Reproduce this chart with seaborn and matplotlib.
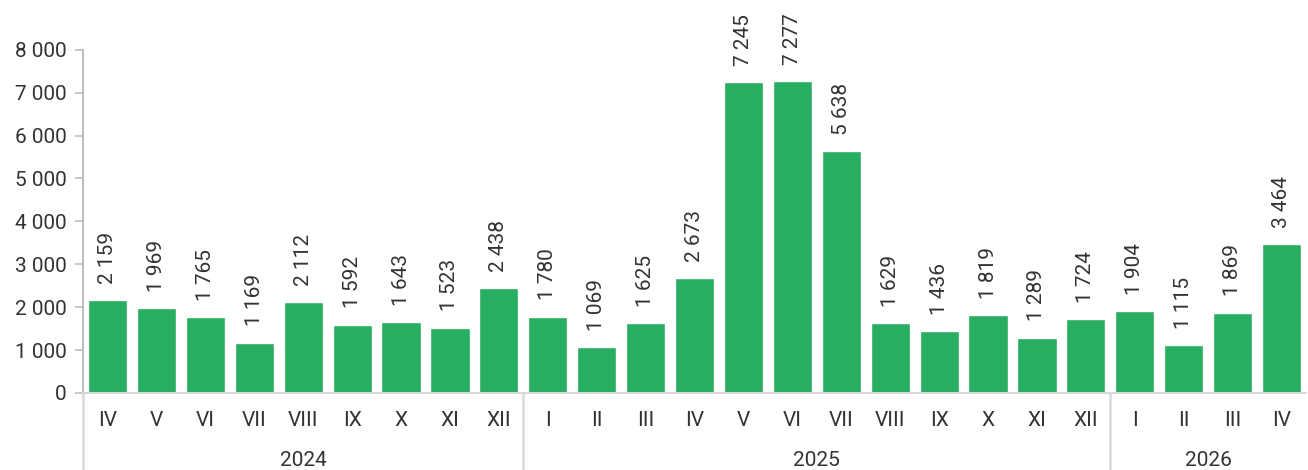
import numpy as np
import pandas as pd
import seaborn as sns
import matplotlib.pyplot as plt
import matplotlib.transforms as mtransforms

# ---- data ----
years = ["2024", "2025", "2026"]
months_2024 = ["IV", "V", "VI", "VII", "VIII", "IX", "X", "XI", "XII"]
values_2024 = [2159, 1969, 1765, 1169, 2112, 1592, 1643, 1523, 2438]
months_2025 = ["I", "II", "III", "IV", "V", "VI", "VII", "VIII", "IX", "X", "XI", "XII"]
values_2025 = [1780, 1069, 1625, 2673, 7245, 7277, 5638, 1629, 1436, 1819, 1289, 1724]
months_2026 = ["I", "II", "III", "IV"]
values_2026 = [1904, 1115, 1869, 3464]
y_ticks = [0, 1000, 2000, 3000, 4000, 5000, 6000, 7000, 8000]

GREEN = "#27ae60"
GREY = "#bfbfbf"
LIGHT = "#d9d9d9"
TXT = "#333333"

months = months_2024 + months_2025 + months_2026
values = values_2024 + values_2025 + values_2026
year_col = ([years[0]] * len(months_2024) + [years[1]] * len(months_2025)
            + [years[2]] * len(months_2026))
df = pd.DataFrame({"month": months, "value": values, "year": year_col})
df["key"] = df["year"] + "-" + df["month"]

sns.set_style("white")
plt.rcParams["font.family"] = ["Roboto", "DejaVu Sans"]

fig = plt.figure(figsize=(13.08, 4.70), dpi=100)
ax = fig.add_axes([0.0635, 0.164, 0.935, 0.730])

sns.barplot(data=df, x="key", y="value", order=list(df["key"]), color=GREEN,
            saturation=1, width=0.8, ax=ax)

ax.set_ylim(0, 8000)
ax.set_xlim(-0.5, len(df) - 0.5)
ax.set_yticks(y_ticks)
ax.set_yticklabels([f"{t:,}".replace(",", " ") for t in y_ticks],
                   fontsize=15, color=TXT)
ax.set_xticks([])
ax.set_xlabel("")
ax.set_ylabel("")

for s in ["top", "right"]:
    ax.spines[s].set_visible(False)
ax.spines["left"].set_color(GREY)
ax.spines["left"].set_linewidth(1.5)
ax.spines["bottom"].set_color(LIGHT)
ax.spines["bottom"].set_linewidth(1.5)
ax.tick_params(axis="y", length=6, width=1.2, color=GREY, pad=6, left=True)

# value labels
for i, v in enumerate(df["value"]):
    ax.text(i, v + 380, f"{v:,}".replace(",", " "), rotation=90, ha="center",
            va="bottom", fontsize=15, color=TXT, clip_on=False)

# month and year labels below axis
trans = mtransforms.blended_transform_factory(ax.transData, ax.transAxes)
for i, m in enumerate(df["month"]):
    ax.text(i, -0.08, m, transform=trans, ha="center", va="center",
            fontsize=15, color=TXT)

start = 0
bounds = [-0.5]
for y in years:
    n = (df["year"] == y).sum()
    ax.text(start + (n - 1) / 2, -0.197, y, transform=trans, ha="center",
            va="center", fontsize=15, color=TXT)
    start += n
    bounds.append(start - 0.5)

for b in bounds[:-1]:
    ax.plot([b, b], [0, -0.30], transform=trans, color=LIGHT, lw=1.8,
            clip_on=False)

fig.savefig("out.png", dpi=100)
